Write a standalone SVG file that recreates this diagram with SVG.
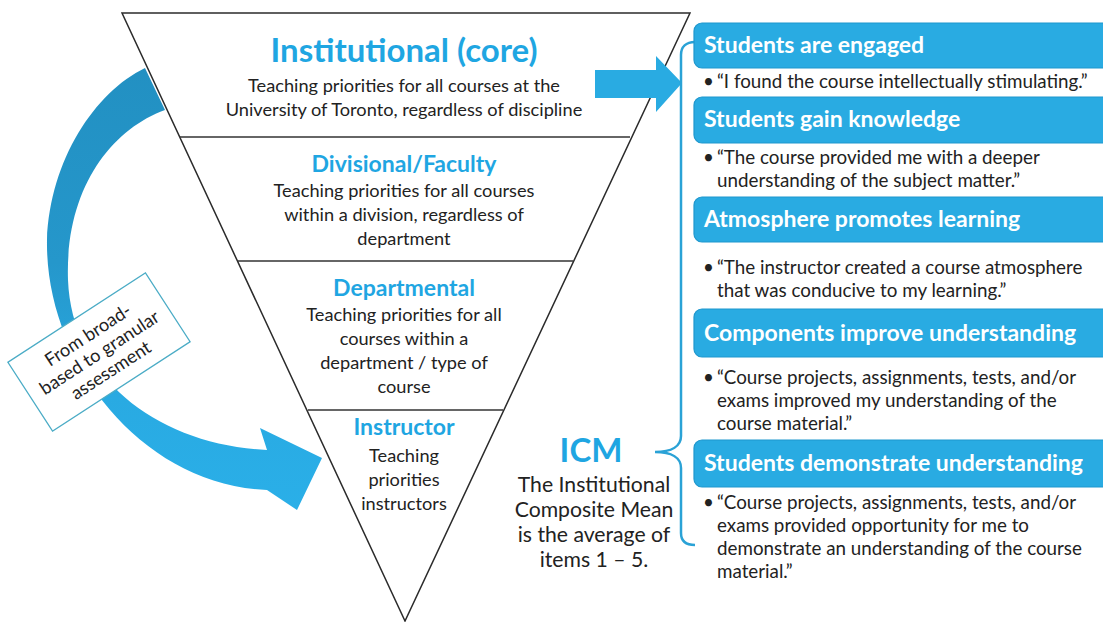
<svg xmlns="http://www.w3.org/2000/svg" width="1103" height="622" viewBox="0 0 1103 622">
<defs>
<linearGradient id="arcGrad" x1="0" y1="60" x2="0" y2="510" gradientUnits="userSpaceOnUse">
<stop offset="0" stop-color="#2290c2"/>
<stop offset="0.45" stop-color="#2597cb"/>
<stop offset="0.75" stop-color="#29aae2"/>
<stop offset="1" stop-color="#2aafe8"/>
</linearGradient>
<style>
.title{font-family:Lato,"Liberation Sans",sans-serif;font-weight:700;fill:#1fa6e2;text-anchor:middle;}
.body{font-family:Lato,"Liberation Sans",sans-serif;fill:#222;text-anchor:middle;font-size:18.2px;}
.icm{font-family:Lato,"Liberation Sans",sans-serif;fill:#222;text-anchor:middle;font-size:21.2px;}
.box{fill:#29abe2;stroke:#1f97cd;stroke-width:1.2;}
.boxt{font-family:Lato,"Liberation Sans",sans-serif;font-weight:700;fill:#fff;font-size:23px;}
.bul{font-family:Lato,"Liberation Sans",sans-serif;fill:#222;font-size:18.8px;}
.div{stroke:#333;stroke-width:1.3;fill:none;}
</style>
</defs>
<rect width="1103" height="622" fill="#fff"/>

<g id="curved-arrow">
<path d="M 145,68 C 95,92 50,160 47,240 C 45,360 140,485 267,490 L 297,510 L 322,458 L 260,428 L 267,450 C 160,445 72,380 68,280 C 65,190 110,130 165,110 Z" fill="url(#arcGrad)"/>
</g>

<g id="pyramid">
<polygon points="122,13 690,13 405,621" fill="#fff" stroke="#2b2b2b" stroke-width="1.5"/>
<line class="div" x1="180" y1="137" x2="630" y2="137"/>
<line class="div" x1="238" y1="261" x2="573" y2="261"/>
<line class="div" x1="308" y1="410" x2="503" y2="410"/>
</g>

<g id="institutional">
<text class="title" x="404" y="62" font-size="33">Institutional (core)</text>
<text class="body" x="404" y="92">Teaching priorities for all courses at the</text>
<text class="body" x="404" y="116">University of Toronto, regardless of discipline</text>
</g>
<g id="divisional">
<text class="title" x="404" y="172" font-size="23">Divisional/Faculty</text>
<text class="body" x="404" y="197">Teaching priorities for all courses</text>
<text class="body" x="404" y="221">within a division, regardless of</text>
<text class="body" x="404" y="245">department</text>
</g>
<g id="departmental">
<text class="title" x="404" y="296" font-size="23">Departmental</text>
<text class="body" x="404" y="321">Teaching priorities for all</text>
<text class="body" x="404" y="345">courses within a</text>
<text class="body" x="404" y="369">department / type of</text>
<text class="body" x="404" y="393">course</text>
</g>
<g id="instructor">
<text class="title" x="404" y="435" font-size="23">Instructor</text>
<text class="body" x="404" y="462">Teaching</text>
<text class="body" x="404" y="486">priorities</text>
<text class="body" x="404" y="510">instructors</text>
</g>

<g id="label">
<g transform="translate(99,352) rotate(-33)">
<rect x="-82" y="-41" width="164" height="82" fill="#fff" stroke="#4bacc6" stroke-width="1.3"/>
<text class="body" x="0" y="-14">From broad-</text>
<text class="body" x="0" y="7">based to granular</text>
<text class="body" x="0" y="28">assessment</text>
</g>
</g>

<g id="connectors">
<polygon points="595,70 656,70 656,56 682,83 656,112 656,98 595,98" fill="#29abe2"/>
<path d="M 695,42 C 686,42 681,47 681,55 L 681,436 C 681,446 672,452 655,452 C 672,452 681,458 681,468 L 681,533 C 681,541 686,545 695,545" fill="none" stroke="#2aa2d6" stroke-width="2.5"/>
</g>

<g id="icm-label">
<text class="title" x="591" y="462" font-size="33">ICM</text>
<text class="icm" x="594" y="492">The Institutional</text>
<text class="icm" x="594" y="517">Composite Mean</text>
<text class="icm" x="594" y="542">is the average of</text>
<text class="icm" x="594" y="567">items 1 – 5.</text>
</g>

<g id="item1">
<rect class="box" x="694" y="23" width="420" height="45" rx="8"/>
<text class="boxt" x="704" y="53">Students are engaged</text>
<text class="bul" x="703" y="88">•</text>
<text class="bul" x="717" y="88">“I found the course intellectually stimulating.”</text>
</g>
<g id="item2">
<rect class="box" x="694" y="97" width="420" height="46" rx="8"/>
<text class="boxt" x="704" y="127">Students gain knowledge</text>
<text class="bul" x="703" y="164">•</text>
<text class="bul" x="717" y="164">“The course provided me with a deeper</text>
<text class="bul" x="717" y="187">understanding of the subject matter.”</text>
</g>
<g id="item3">
<rect class="box" x="694" y="197" width="420" height="45" rx="8"/>
<text class="boxt" x="704" y="227">Atmosphere promotes learning</text>
<text class="bul" x="703" y="274">•</text>
<text class="bul" x="717" y="274">“The instructor created a course atmosphere</text>
<text class="bul" x="717" y="297">that was conducive to my learning.”</text>
</g>
<g id="item4">
<rect class="box" x="694" y="309" width="420" height="48" rx="8"/>
<text class="boxt" x="704" y="341">Components improve understanding</text>
<text class="bul" x="703" y="384">•</text>
<text class="bul" x="717" y="384">“Course projects, assignments, tests, and/or</text>
<text class="bul" x="717" y="407">exams improved my understanding of the</text>
<text class="bul" x="717" y="430">course material.”</text>
</g>
<g id="item5">
<rect class="box" x="694" y="440" width="420" height="47" rx="8"/>
<text class="boxt" x="704" y="471">Students demonstrate understanding</text>
<text class="bul" x="703" y="509">•</text>
<text class="bul" x="717" y="509">“Course projects, assignments, tests, and/or</text>
<text class="bul" x="717" y="532">exams provided opportunity for me to</text>
<text class="bul" x="717" y="555">demonstrate an understanding of the course</text>
<text class="bul" x="717" y="578">material.”</text>
</g>
</svg>
